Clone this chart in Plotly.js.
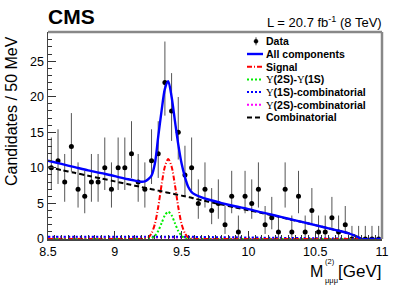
<!DOCTYPE html>
<html>
<head>
<meta charset="utf-8">
<script src="https://cdn.plot.ly/plotly-3.0.1.min.js"></script>
<style>html,body{margin:0;padding:0;background:#fff;}#chart{width:399px;height:286px;}</style>
</head>
<body>
<div id="chart"></div>
<script>
// ---- Data: counts per 50 MeV bin, 8.5 - 11.0 GeV ----
const binLow = 8.5;
const binWidth = 0.05;
const counts = [10,11,8,13,7,6,8,8,10,7, 10,10,12,8,7,11,12,22,18,15, 9,10,5,7,4,5,2,6,1,6, 5,7,2,3,1,7,1,6,1,4, 1,1,3,1,2,0,0,0,0,0];
// Garwood (68.27%) Poisson interval bounds, indexed by count
const garwoodLow  = [0,0.173,0.708,1.367,2.086,2.840,3.620,4.419,5.232,6.057,6.891,7.734,8.585,9.441,10.30,11.17,12.04,12.92,13.79,14.68,15.56,16.45,17.34];
const garwoodHigh = [1.841,3.300,4.638,5.918,7.163,8.382,9.584,10.77,11.95,13.11,14.27,15.42,16.56,17.70,18.83,19.96,21.08,22.20,23.32,24.44,25.55,26.66,27.76];

// ---- Fit curves ----
const curveX      = [8.5,8.6,8.7,8.8,8.9,9.0,9.1,9.15,9.2,9.225,9.25,9.275,9.3,9.325,9.35,9.375,9.4,9.425,9.45,9.475,9.5,9.525,9.55,9.575,9.6,9.65,9.7,9.8,9.9,10.0,10.1,10.2,10.3,10.4,10.5,10.6,10.7,10.75,10.8,10.85,10.9,11.0];
const allComp     = [11.0,10.55,10.1,9.65,9.25,8.85,8.4,8.2,8.05,8.1,8.4,8.9,10.6,14.4,18.0,21.1,22.2,20.0,16.6,13.3,10.6,8.7,7.3,6.6,6.25,5.85,5.55,5.05,4.6,4.2,3.75,3.3,2.85,2.4,1.95,1.5,1.05,0.8,0.45,0,0,0];
const signal      = [0,0,0,0,0,0,0,0,0,0.05,0.2,0.8,2.1,4.5,7.6,10.2,11.25,10.2,7.6,4.5,2.1,0.8,0.2,0.05,0,0,0,0,0,0,0,0,0,0,0,0,0,0,0,0,0,0];
const y2sY1s      = [0,0,0,0,0,0,0,0,0,0,0.03,0.13,0.44,1.13,2.22,3.34,3.83,3.34,2.22,1.13,0.44,0.13,0.03,0,0,0,0,0,0,0,0,0,0,0,0,0,0,0,0,0,0,0];
const y1sComb     = [0.3,0.3,0.3,0.3,0.3,0.3,0.3,0.3,0.3,0.3,0.3,0.3,0.3,0.3,0.3,0.3,0.3,0.3,0.3,0.3,0.3,0.3,0.3,0.3,0.3,0.28,0.27,0.25,0.23,0.21,0.19,0.17,0.15,0.13,0.1,0.08,0.05,0.04,0.02,0,0,0];
const y2sComb     = [0.2,0.2,0.2,0.2,0.2,0.2,0.2,0.2,0.2,0.2,0.2,0.2,0.2,0.2,0.2,0.2,0.2,0.2,0.2,0.2,0.2,0.2,0.2,0.2,0.2,0.19,0.18,0.17,0.16,0.15,0.14,0.12,0.1,0.09,0.07,0.05,0.03,0.02,0.01,0,0,0];
const combinatorial = [10.1,9.7,9.3,8.9,8.5,8.1,7.7,7.5,7.3,7.2,7.1,7.0,6.9,6.8,6.7,6.6,6.5,6.4,6.3,6.2,6.1,6.0,5.9,5.8,5.65,5.45,5.25,4.85,4.45,4.05,3.65,3.25,2.8,2.4,1.95,1.5,1.05,0.8,0.45,0,0,0];

const legendLabels = ['Data','All components','Signal','Υ(2S)-Υ(1S)','Υ(1S)-combinatorial','Υ(2S)-combinatorial','Combinatorial'];
const xTitle = 'M';
const xTitleSup = '(2)';
const xTitleSub = 'μμμ';
const xTitleUnit = '[GeV]';
const yTitle = 'Candidates / 50 MeV';
const expLabel = 'CMS';
const lumiLabel = 'L = 20.7 fb<sup>-1</sup> (8 TeV)';

// ---- Build ----
const binCenters = counts.map((c,i) => binLow + binWidth*(i+0.5));
const errPlus  = counts.map(c => garwoodHigh[c] - c);
const errMinus = counts.map(c => c - garwoodLow[c]);

const FONT = 'Liberation Sans, Arial, Helvetica, sans-serif';

const styles = [
  {color:'#0000ff', width:2.4, dash:'solid'},
  {color:'#ff0000', width:2, dash:'5px,2px,1px,2px'},
  {color:'#00ee00', width:2, dash:'2px,2px'},
  {color:'#0000ff', width:2, dash:'2px,2px'},
  {color:'#ff00ff', width:2, dash:'2px,2px'},
  {color:'#000000', width:2, dash:'5px,3px'}
];
const series = [allComp, signal, y2sY1s, y1sComb, y2sComb, combinatorial];

const traces = [{
  type:'scatter', mode:'markers', x:binCenters, y:counts, name:legendLabels[0],
  marker:{color:'#000', size:5},
  error_y:{type:'data', symmetric:false, array:errPlus, arrayminus:errMinus, color:'#555', thickness:1, width:0},
  cliponaxis:true
}];
const drawOrder = [4,3,2,1,5,0];
drawOrder.forEach(k => {
  traces.push({
    type:'scatter', mode:'lines', x:curveX, y:series[k], name:legendLabels[k+1],
    line:{color:styles[k].color, width:styles[k].width, dash:styles[k].dash, shape:'spline', smoothing:0.8},
    hoverinfo:'skip'
  });
});

// pixel -> paper helpers (plot area: x 48..382, y 32..239)
const L=48, R=17, T=32, B=47, W=399, H=286;
const pw = W-L-R, ph = H-T-B;
const px = x => (x-L)/pw;
const py = y => (H-B-y)/ph;

const shapes = [
  {type:'line', xref:'paper', yref:'paper', x0:0, x1:1, y0:1, y1:1, line:{color:'#888', width:2.5}},
  {type:'line', xref:'paper', yref:'paper', x0:1, x1:1, y0:0, y1:1, line:{color:'#888', width:2.5}}
];
const annotations = [
  {text:'<b>'+expLabel+'</b>', xref:'paper', yref:'paper', x:px(46), y:py(16), xanchor:'left', yanchor:'middle', showarrow:false, font:{family:FONT, size:21, color:'#000'}},
  {text:lumiLabel, xref:'paper', yref:'paper', x:px(384), y:py(22), xanchor:'right', yanchor:'middle', showarrow:false, font:{family:FONT, size:13, color:'#000'}},
  {text:yTitle, xref:'paper', yref:'paper', x:px(11), y:py(34), xanchor:'center', yanchor:'top', textangle:-90, showarrow:false, font:{family:FONT, size:16, color:'#000'}},
  {text:xTitleUnit, xref:'paper', yref:'paper', x:px(336), y:py(271.5), xanchor:'left', yanchor:'middle', showarrow:false, font:{family:FONT, size:17, color:'#000'}},
  {text:xTitle, xref:'paper', yref:'paper', x:px(325), y:py(271.5), xanchor:'right', yanchor:'middle', showarrow:false, font:{family:FONT, size:16, color:'#000'}},
  {text:xTitleSup, xref:'paper', yref:'paper', x:px(322.5), y:py(261), xanchor:'left', yanchor:'middle', showarrow:false, font:{family:FONT, size:7.5, color:'#000'}},
  {text:xTitleSub, xref:'paper', yref:'paper', x:px(322.5), y:py(280), xanchor:'left', yanchor:'middle', showarrow:false, font:{family:FONT, size:7.5, color:'#000'}}
];

// legend (manual, to match compact ROOT spacing)
const legTop = 41.3, legStep = 12.7, keyX0 = 247, keyX1 = 263, textX = 264;
const fmtLabel = s => s.replace(/Υ/g, '<span style="font-family:\'Liberation Serif\',serif;font-weight:normal">Υ</span>');
legendLabels.forEach((lab,i) => {
  const yy = legTop + legStep*i;
  annotations.push({text:'<b>'+fmtLabel(lab)+'</b>', xref:'paper', yref:'paper', x:px(textX), y:py(yy), xanchor:'left', yanchor:'middle', showarrow:false, font:{family:FONT, size:10.5, color:'#000'}});
  if (i === 0) {
    shapes.push({type:'line', xref:'paper', yref:'paper', x0:px(256), x1:px(256), y0:py(yy-4), y1:py(yy+4), line:{color:'#444', width:1}});
    shapes.push({type:'circle', xref:'paper', yref:'paper', x0:px(254), x1:px(258), y0:py(yy+2), y1:py(yy-2), fillcolor:'#000', line:{color:'#000', width:0.5}});
  } else {
    const st = styles[i-1];
    shapes.push({type:'line', xref:'paper', yref:'paper', x0:px(keyX0), x1:px(keyX1), y0:py(yy), y1:py(yy), line:{color:st.color, width:st.width, dash:st.dash}});
  }
});

const layout = {
  width:W, height:H,
  margin:{l:L, r:R, t:T, b:B, pad:0},
  paper_bgcolor:'#fff', plot_bgcolor:'#fff',
  showlegend:false,
  font:{family:FONT, color:'#000', size:12.5},
  xaxis:{range:[8.5,11], tick0:8.5, dtick:0.5, ticks:'inside', ticklen:8, tickwidth:1, tickcolor:'#333',
         showline:true, linecolor:'#444', linewidth:1.5, showgrid:false, zeroline:false,
         tickfont:{family:FONT, size:12.5, color:'#000'},
         minor:{tick0:8.5, dtick:0.05, ticks:'inside', ticklen:4, tickcolor:'#333', tickwidth:1, showgrid:false}},
  yaxis:{range:[0,29.1], tick0:0, dtick:5, ticks:'inside', ticklen:8, tickwidth:1, tickcolor:'#333',
         showline:true, linecolor:'#444', linewidth:1.5, showgrid:false, zeroline:false,
         tickfont:{family:FONT, size:12.5, color:'#000'},
         minor:{tick0:0, dtick:1, ticks:'inside', ticklen:4, tickcolor:'#333', tickwidth:1, showgrid:false}},
  shapes:shapes,
  annotations:annotations
};

Plotly.newPlot('chart', traces, layout, {staticPlot:true, displayModeBar:false});
</script>
</body>
</html>
